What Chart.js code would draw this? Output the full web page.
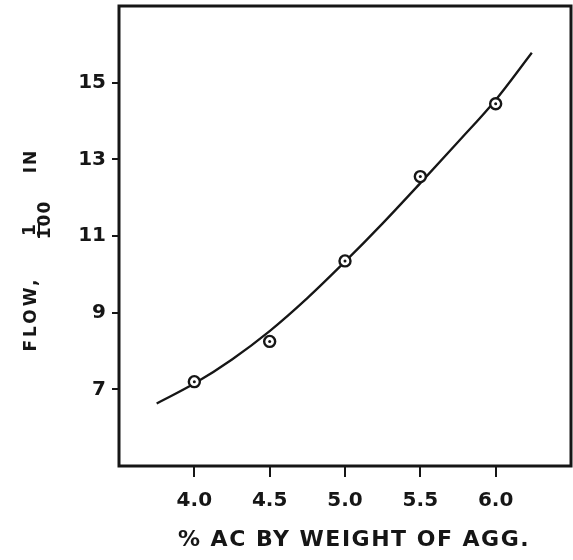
<!DOCTYPE html>
<html>
<head>
<meta charset="utf-8">
<script src="https://cdn.jsdelivr.net/npm/chart.js@4"></script>
<style>
  html, body { margin: 0; padding: 0; background: #fff; }
  #wrap { width: 573px; height: 560px; }
</style>
</head>
<body>
<div id="wrap"><canvas id="chart" width="573" height="560"></canvas></div>
<script>
// % AC by weight of aggregate vs flow (1/100 in)
const xTickValues = [4.0, 4.5, 5.0, 5.5, 6.0];
const xTickLabels = ["4.0", "4.5", "5.0", "5.5", "6.0"];
const yTickValues = [7, 9, 11, 13, 15];
const yTickLabels = ["7", "9", "11", "13", "15"];

// measured points
const acPercent = [4.0, 4.5, 5.0, 5.5, 6.0];
const flowMeasured = [7.2, 8.25, 10.35, 12.55, 14.45];

// hand-drawn curve
const curveAc = [3.75, 4.0, 4.25, 4.5, 4.75, 5.0, 5.25, 5.5, 5.75, 6.0, 6.24];
const curveFlow = [6.63, 7.15, 7.78, 8.52, 9.38, 10.33, 11.33, 12.38, 13.45, 14.55, 15.78];

const xTitle = "% AC BY WEIGHT OF AGG.";

const ink = "#161616";
const font = "'DejaVu Sans', sans-serif";

const toXY = (xs, ys) => xs.map((x, i) => ({ x, y: ys[i] }));

// frame around the plot area
const framePlugin = {
  id: "frame",
  afterDraw(chart) {
    const a = chart.chartArea;
    const c = chart.ctx;
    c.save();
    c.strokeStyle = ink;
    c.lineWidth = 3;
    c.strokeRect(a.left, a.top, a.right - a.left, a.bottom - a.top);
    c.restore();
  },
};

// axis titles (lettering is spaced out, and the y one has a 1/100 fraction)
const titlesPlugin = {
  id: "titles",
  afterDraw(chart) {
    const c = chart.ctx;
    c.save();
    c.fillStyle = ink;
    c.strokeStyle = ink;
    c.textBaseline = "middle";
    c.textAlign = "center";

    c.font = `bold 22px ${font}`;
    c.letterSpacing = "1.5px";
    c.fillText(xTitle, 354, 540);

    const put = (txt, x, y, size, gap) => {
      c.save();
      c.translate(x, y);
      c.rotate(-Math.PI / 2);
      c.font = `bold ${size}px ${font}`;
      c.letterSpacing = gap;
      c.fillText(txt, 0, 0);
      c.restore();
    };
    put("FLOW,", 32, 314, 17, "3px");
    put("1", 31, 230, 17, "0px");
    put("100", 46, 220, 17, "1px");
    put("IN", 32, 161, 17, "2px");
    c.lineWidth = 2;
    c.beginPath();
    c.moveTo(39, 238);
    c.lineTo(39, 223);
    c.stroke();
    c.restore();
  },
};

new Chart(document.getElementById("chart"), {
  type: "scatter",
  data: {
    datasets: [
      {
        label: "curve",
        data: toXY(curveAc, curveFlow),
        showLine: true,
        borderColor: ink,
        borderWidth: 2.3,
        pointRadius: 0,
        cubicInterpolationMode: "monotone",
        order: 3,
      },
      {
        label: "points",
        data: toXY(acPercent, flowMeasured),
        pointRadius: 5.5,
        pointBorderWidth: 2.4,
        pointBorderColor: ink,
        pointBackgroundColor: "#fff",
        order: 2,
      },
      {
        label: "centres",
        data: toXY(acPercent, flowMeasured),
        pointRadius: 1.5,
        pointBorderWidth: 0,
        pointBackgroundColor: ink,
        order: 1,
      },
    ],
  },
  options: {
    responsive: false,
    animation: false,
    layout: { autoPadding: false, padding: { top: 6, right: 2, left: 0, bottom: 0 } },
    plugins: {
      legend: { display: false },
      tooltip: { enabled: false },
    },
    scales: {
      x: {
        type: "linear",
        min: 3.5,
        max: 6.5,
        afterBuildTicks: (s) => { s.ticks = xTickValues.map((v) => ({ value: v })); },
        afterFit: (s) => {
          s.height = 94;
          s.paddingLeft = 0;
          s.paddingRight = 0;
        },
        border: { display: false },
        grid: { drawOnChartArea: false, tickLength: 11, lineWidth: 2, color: ink },
        ticks: {
          padding: 12,
          color: ink,
          font: { family: font, size: 20, weight: "bold" },
          callback: (v) => xTickLabels[xTickValues.indexOf(v)] ?? "",
        },
      },
      y: {
        type: "linear",
        min: 5,
        max: 17,
        afterBuildTicks: (s) => { s.ticks = yTickValues.map((v) => ({ value: v })); },
        afterFit: (s) => {
          s.width = 119;
          s.paddingTop = 0;
          s.paddingBottom = 0;
        },
        border: { display: false },
        grid: { drawOnChartArea: false, tickLength: 7, lineWidth: 2, color: ink },
        ticks: {
          padding: 6,
          color: ink,
          font: { family: font, size: 20, weight: "bold" },
          callback: (v) => yTickLabels[yTickValues.indexOf(v)] ?? "",
        },
      },
    },
  },
  plugins: [framePlugin, titlesPlugin],
});
</script>
</body>
</html>
